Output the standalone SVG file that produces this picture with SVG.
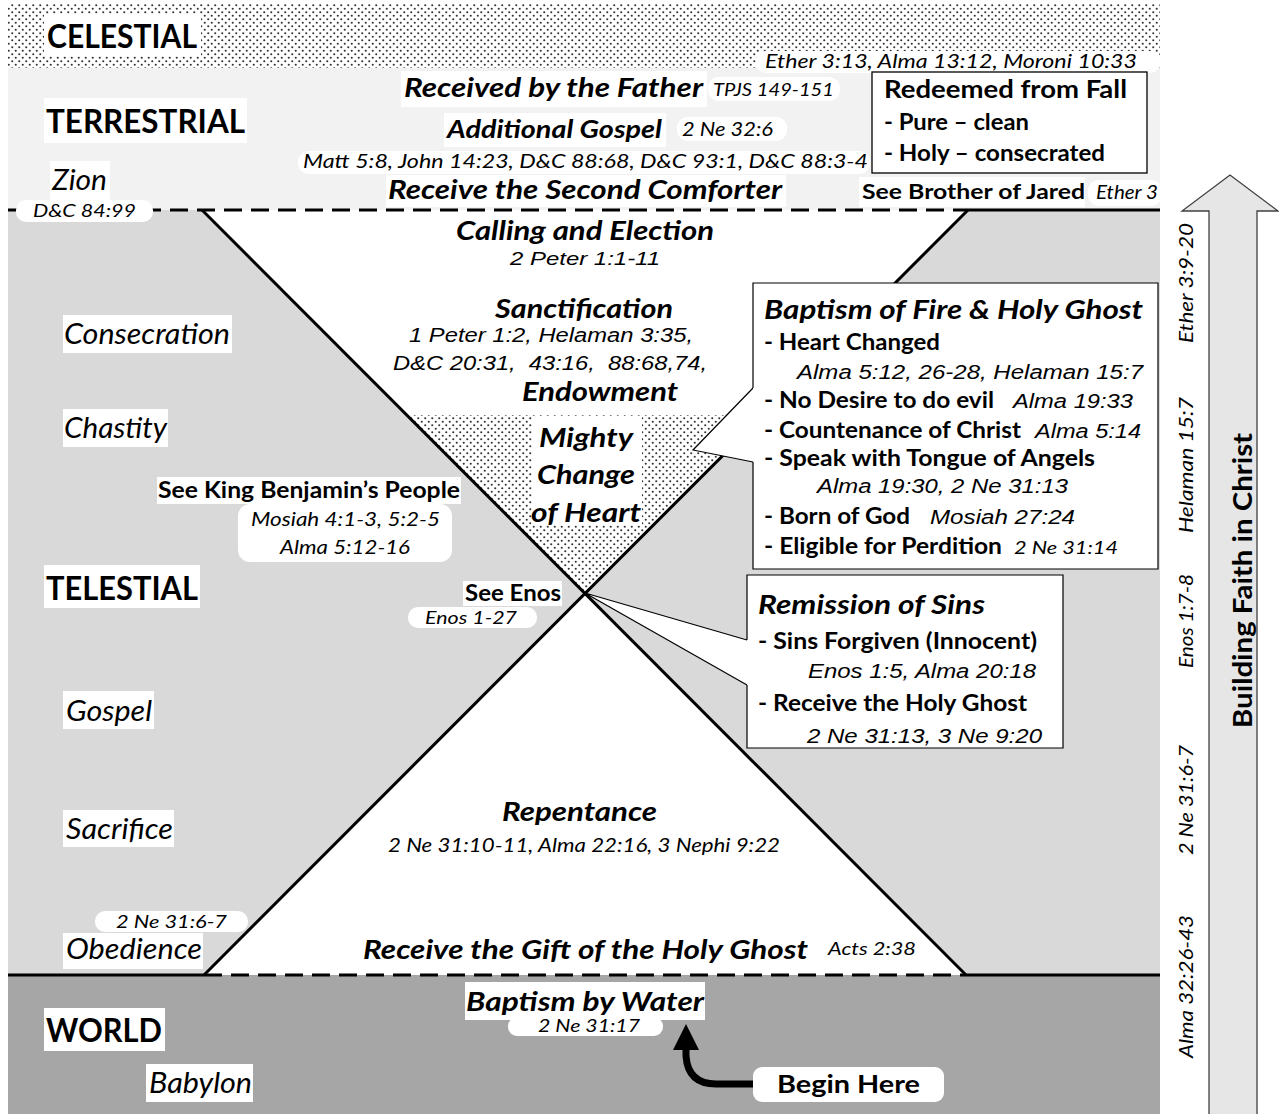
<svg xmlns="http://www.w3.org/2000/svg" width="1279" height="1114" viewBox="0 0 1279 1114">
<defs>
<pattern id="dots" width="7" height="7" patternUnits="userSpaceOnUse">
<rect width="7" height="7" fill="#fff"/>
<circle cx="1.75" cy="1.75" r="1.05" fill="#333"/>
<circle cx="5.25" cy="5.25" r="1.05" fill="#333"/>
</pattern>
<marker id="ah" markerUnits="userSpaceOnUse" viewBox="0 -15 26 30" refX="0" refY="0" markerWidth="26" markerHeight="30" orient="auto">
<path d="M0,-13 L26,0 L0,13 Z" fill="#000"/>
</marker>
<style>
.b{font-family:Lato,"Liberation Sans",sans-serif;font-weight:bold;fill:#000}
.bi{font-family:Lato,"Liberation Sans",sans-serif;font-weight:bold;font-style:italic;fill:#000}
.ci{font-family:Lato,"Liberation Sans",sans-serif;font-style:italic;fill:#000}
.ai{font-family:"Liberation Sans",Arial,sans-serif;font-style:italic;fill:#000}
.hl{fill:#fff}
.box{fill:#fff;stroke:#000;stroke-width:1.3}
.edge{fill:none;stroke:#000;stroke-width:1.2}
.thick{stroke:#000;stroke-width:3;fill:none}
.dash{stroke:#000;stroke-width:3;stroke-dasharray:18 9;fill:none}
</style>
</defs>
<rect width="1279" height="1114" fill="#fff"/>
<g id="bands">
<rect x="8" y="3" width="1152" height="65" fill="url(#dots)"/>
<rect x="8" y="68" width="1152" height="142" fill="#f2f2f2"/>
<rect x="8" y="210" width="1152" height="765" fill="#fff"/>
<polygon points="8,210 202,210 585,593 204,975 8,975" fill="#d9d9d9"/>
<polygon points="968,210 1160,210 1160,975 966,975 585,593" fill="#d9d9d9"/>
<polygon points="408,415 765,415 585,593" fill="url(#dots)"/>
<polygon points="585,593 747,640 747,685" fill="#fff"/>
<rect x="8" y="975" width="1152" height="139" fill="#a6a6a6"/>
</g>
<g id="connectors">
<path class="dash" d="M8,210 H966"/>
<path class="thick" d="M966,210 H1160"/>
<path class="thick" d="M8,975 H204"/>
<path class="dash" d="M204,975 H966"/>
<path class="thick" d="M966,975 H1160"/>
<path class="thick" d="M202,210 L966,975"/>
<path class="thick" d="M204,975 L968,210"/>
<path class="edge" d="M747,640 L585,593 L747,685"/>
<path d="M753,1084 H716 Q688,1084 686,1056 V1050" fill="none" stroke="#000" stroke-width="7" marker-end="url(#ah)"/>
</g>
<g id="faith-arrow">
<polygon points="1209,1120 1209,211 1182,211 1230,175 1278,211 1257,211 1257,1120" fill="#e6e6e6" stroke="#404040" stroke-width="1.3"/>
<text class="b" font-size="27" transform="translate(1252,728) rotate(-90)" textLength="295" lengthAdjust="spacingAndGlyphs">Building Faith in Christ</text>
</g>
<g id="side-refs">
<text class="ci" font-size="20" transform="translate(1193,343) rotate(-90)" textLength="120" lengthAdjust="spacingAndGlyphs">Ether 3:9-20</text>
<text class="ci" font-size="20" transform="translate(1193,533) rotate(-90)" textLength="136" lengthAdjust="spacingAndGlyphs">Helaman 15:7</text>
<text class="ci" font-size="20" transform="translate(1193,668) rotate(-90)" textLength="94" lengthAdjust="spacingAndGlyphs">Enos 1:7-8</text>
<text class="ci" font-size="20" transform="translate(1193,855) rotate(-90)" textLength="110" lengthAdjust="spacingAndGlyphs">2 Ne 31:6-7</text>
<text class="ci" font-size="20" transform="translate(1193,1058) rotate(-90)" textLength="143" lengthAdjust="spacingAndGlyphs">Alma 32:26-43</text>
</g>
<g id="celestial">
<rect class="hl" x="44" y="14" width="157" height="42"/>
<text class="b" x="47" y="48" font-size="33" textLength="150" lengthAdjust="spacingAndGlyphs">CELESTIAL</text>
<rect class="hl" x="756" y="51" width="404" height="22" rx="10"/>
<text class="ci" x="765" y="68" font-size="19.5" textLength="372" lengthAdjust="spacingAndGlyphs">Ether 3:13, Alma 13:12, Moroni 10:33</text>
</g>
<g id="terrestrial">
<rect class="hl" x="44" y="98" width="203" height="45"/>
<text class="b" x="46" y="133" font-size="33" textLength="199" lengthAdjust="spacingAndGlyphs">TERRESTRIAL</text>
</g>
<g id="zion">
<rect class="hl" x="50" y="161" width="60" height="39"/>
<text class="ci" x="52" y="190" font-size="28" textLength="55" lengthAdjust="spacingAndGlyphs">Zion</text>
<rect class="hl" x="16" y="200" width="137" height="22" rx="10"/>
<text class="ci" x="33" y="217" font-size="18" textLength="103" lengthAdjust="spacingAndGlyphs">D&amp;C 84:99</text>
</g>
<g id="received-father">
<rect class="hl" x="401" y="71" width="306" height="36"/>
<text class="bi" x="404" y="97" font-size="27" textLength="299" lengthAdjust="spacingAndGlyphs">Received by the Father</text>
<rect class="hl" x="708" y="77" width="132" height="24" rx="11"/>
<text class="ci" x="713" y="96" font-size="17" textLength="121" lengthAdjust="spacingAndGlyphs">TPJS 149-151</text>
</g>
<g id="additional-gospel">
<rect class="hl" x="444" y="113" width="222" height="34"/>
<text class="bi" x="447" y="138" font-size="24" textLength="215" lengthAdjust="spacingAndGlyphs">Additional Gospel</text>
<rect class="hl" x="677" y="117" width="110" height="24" rx="11"/>
<text class="ci" x="682" y="136" font-size="19" textLength="91" lengthAdjust="spacingAndGlyphs">2 Ne 32:6</text>
</g>
<g id="second-comforter">
<rect class="hl" x="298" y="151" width="572" height="23" rx="11"/>
<text class="ci" x="303" y="168" font-size="19.5" textLength="565" lengthAdjust="spacingAndGlyphs">Matt 5:8, John 14:23, D&amp;C 88:68, D&amp;C 93:1, D&amp;C 88:3-4</text>
<rect class="hl" x="386" y="175" width="400" height="32"/>
<text class="bi" x="388" y="199" font-size="27" textLength="394" lengthAdjust="spacingAndGlyphs">Receive the Second Comforter</text>
</g>
<g id="redeemed">
<rect class="box" x="872" y="72" width="275" height="101"/>
<text class="b" x="884" y="98" font-size="25" textLength="243" lengthAdjust="spacingAndGlyphs">Redeemed from Fall</text>
<text class="b" x="884" y="130" font-size="22" textLength="145" lengthAdjust="spacingAndGlyphs">- Pure – clean</text>
<text class="b" x="884" y="161" font-size="22" textLength="221" lengthAdjust="spacingAndGlyphs">- Holy – consecrated</text>
</g>
<g id="brother-jared">
<rect class="hl" x="859" y="177" width="226" height="30"/>
<text class="b" x="862" y="199" font-size="21" textLength="223" lengthAdjust="spacingAndGlyphs">See Brother of Jared</text>
<rect class="hl" x="1088" y="180" width="74" height="26" rx="11"/>
<text class="ci" x="1096" y="199" font-size="19" textLength="62" lengthAdjust="spacingAndGlyphs">Ether 3</text>
</g>
<g id="calling-election">
<text class="bi" x="456" y="240" font-size="26" textLength="258" lengthAdjust="spacingAndGlyphs">Calling and Election</text>
<text class="ai" x="510" y="265" font-size="18" textLength="150" lengthAdjust="spacingAndGlyphs">2 Peter 1:1-11</text>
</g>
<g id="sanctification">
<text class="bi" x="495" y="318" font-size="26" textLength="178" lengthAdjust="spacingAndGlyphs">Sanctification</text>
<text class="ai" x="409" y="342" font-size="20" textLength="284" lengthAdjust="spacingAndGlyphs">1 Peter 1:2, Helaman 3:35,</text>
<text class="ai" x="393" y="370" font-size="20" textLength="314" lengthAdjust="spacingAndGlyphs" xml:space="preserve">D&amp;C 20:31,  43:16,  88:68,74,</text>
<text class="bi" x="522" y="401" font-size="26" textLength="156" lengthAdjust="spacingAndGlyphs">Endowment</text>
</g>
<g id="mighty-change">
<rect class="hl" x="532" y="417" width="110" height="108"/>
<text class="bi" x="539" y="447" font-size="27" textLength="94" lengthAdjust="spacingAndGlyphs">Mighty</text>
<text class="bi" x="537" y="484" font-size="27" textLength="98" lengthAdjust="spacingAndGlyphs">Change</text>
<text class="bi" x="531" y="522" font-size="27" textLength="110" lengthAdjust="spacingAndGlyphs">of Heart</text>
</g>
<g id="baptism-fire">
<polygon points="753,388 693,450 753,462" fill="#fff"/>
<path class="edge" d="M753,388 L693,450 L753,462"/>
<rect x="753" y="283" width="405" height="286" fill="#fff"/>
<path class="edge" d="M753,388 V283 H1158 V569 H753 V462"/>
<text class="bi" x="764" y="319" font-size="27" textLength="379" lengthAdjust="spacingAndGlyphs">Baptism of Fire &amp; Holy Ghost</text>
<text class="b" x="764" y="350" font-size="22" textLength="176" lengthAdjust="spacingAndGlyphs">- Heart Changed</text>
<text class="ai" x="797" y="379" font-size="20" textLength="346" lengthAdjust="spacingAndGlyphs">Alma 5:12, 26-28, Helaman 15:7</text>
<text class="b" x="764" y="408" font-size="22" textLength="230" lengthAdjust="spacingAndGlyphs">- No Desire to do evil</text>
<text class="ai" x="1013" y="408" font-size="20" textLength="120" lengthAdjust="spacingAndGlyphs">Alma 19:33</text>
<text class="b" x="764" y="438" font-size="22" textLength="257" lengthAdjust="spacingAndGlyphs">- Countenance of Christ</text>
<text class="ai" x="1035" y="438" font-size="20" textLength="106" lengthAdjust="spacingAndGlyphs">Alma 5:14</text>
<text class="b" x="764" y="466" font-size="22" textLength="331" lengthAdjust="spacingAndGlyphs">- Speak with Tongue of Angels</text>
<text class="ai" x="817" y="493" font-size="20" textLength="251" lengthAdjust="spacingAndGlyphs">Alma 19:30, 2 Ne 31:13</text>
<text class="b" x="764" y="524" font-size="22" textLength="146" lengthAdjust="spacingAndGlyphs">- Born of God</text>
<text class="ai" x="930" y="524" font-size="20" textLength="145" lengthAdjust="spacingAndGlyphs">Mosiah 27:24</text>
<text class="b" x="764" y="554" font-size="22" textLength="238" lengthAdjust="spacingAndGlyphs">- Eligible for Perdition</text>
<text class="ci" x="1014" y="554" font-size="18" textLength="104" lengthAdjust="spacingAndGlyphs">2 Ne 31:14</text>
</g>
<g id="remission">
<rect x="747" y="575" width="316" height="173" fill="#fff"/>
<path class="edge" d="M747,640 V575 H1063 V748 H747 V685"/>
<text class="bi" x="758" y="614" font-size="27" textLength="227" lengthAdjust="spacingAndGlyphs">Remission of Sins</text>
<text class="b" x="758" y="649" font-size="22" textLength="279" lengthAdjust="spacingAndGlyphs">- Sins Forgiven (Innocent)</text>
<text class="ai" x="808" y="678" font-size="20" textLength="228" lengthAdjust="spacingAndGlyphs">Enos 1:5, Alma 20:18</text>
<text class="b" x="758" y="711" font-size="22" textLength="269" lengthAdjust="spacingAndGlyphs">- Receive the Holy Ghost</text>
<text class="ai" x="807" y="743" font-size="20" textLength="235" lengthAdjust="spacingAndGlyphs">2 Ne 31:13, 3 Ne 9:20</text>
</g>
<g id="consecration">
<rect class="hl" x="63" y="315" width="169" height="38"/>
<text class="ci" x="64" y="344" font-size="28" textLength="166" lengthAdjust="spacingAndGlyphs">Consecration</text>
</g>
<g id="chastity">
<rect class="hl" x="63" y="409" width="105" height="38"/>
<text class="ci" x="64" y="438" font-size="28" textLength="103" lengthAdjust="spacingAndGlyphs">Chastity</text>
</g>
<g id="king-benjamin">
<rect class="hl" x="157" y="477" width="304" height="27"/>
<text class="b" x="158" y="498" font-size="22" textLength="302" lengthAdjust="spacingAndGlyphs">See King Benjamin’s People</text>
<rect class="hl" x="238" y="504" width="214" height="58" rx="12"/>
<text class="ci" x="251" y="526" font-size="20" textLength="189" lengthAdjust="spacingAndGlyphs">Mosiah 4:1-3, 5:2-5</text>
<text class="ci" x="280" y="554" font-size="20" textLength="130" lengthAdjust="spacingAndGlyphs">Alma 5:12-16</text>
</g>
<g id="telestial">
<rect class="hl" x="44" y="565" width="156" height="43"/>
<text class="b" x="46" y="600" font-size="33" textLength="152" lengthAdjust="spacingAndGlyphs">TELESTIAL</text>
</g>
<g id="see-enos">
<rect class="hl" x="463" y="581" width="99" height="25"/>
<text class="b" x="465" y="601" font-size="22" textLength="96" lengthAdjust="spacingAndGlyphs">See Enos</text>
<rect class="hl" x="408" y="607" width="129" height="21" rx="10"/>
<text class="ci" x="425" y="624" font-size="18" textLength="92" lengthAdjust="spacingAndGlyphs">Enos 1-27</text>
</g>
<g id="gospel">
<rect class="hl" x="63" y="691" width="91" height="38"/>
<text class="ci" x="66" y="721" font-size="28" textLength="86" lengthAdjust="spacingAndGlyphs">Gospel</text>
</g>
<g id="sacrifice">
<rect class="hl" x="63" y="810" width="111" height="37"/>
<text class="ci" x="66" y="839" font-size="28" textLength="107" lengthAdjust="spacingAndGlyphs">Sacrifice</text>
</g>
<g id="obedience">
<rect class="hl" x="95" y="911" width="153" height="21" rx="10"/>
<text class="ci" x="116" y="928" font-size="18" textLength="111" lengthAdjust="spacingAndGlyphs">2 Ne 31:6-7</text>
<rect class="hl" x="63" y="933" width="140" height="36"/>
<text class="ci" x="66" y="959" font-size="28" textLength="136" lengthAdjust="spacingAndGlyphs">Obedience</text>
</g>
<g id="repentance">
<text class="bi" x="502" y="821" font-size="26" textLength="155" lengthAdjust="spacingAndGlyphs">Repentance</text>
<text class="ci" x="388" y="852" font-size="19.5" textLength="392" lengthAdjust="spacingAndGlyphs">2 Ne 31:10-11, Alma 22:16, 3 Nephi 9:22</text>
</g>
<g id="gift-holy-ghost">
<text class="bi" x="363" y="959" font-size="27" textLength="445" lengthAdjust="spacingAndGlyphs">Receive the Gift of the Holy Ghost</text>
<text class="ci" x="828" y="955" font-size="18" textLength="88" lengthAdjust="spacingAndGlyphs">Acts 2:38</text>
</g>
<g id="world">
<rect class="hl" x="44" y="1008" width="121" height="43"/>
<text class="b" x="46" y="1042" font-size="33" textLength="116" lengthAdjust="spacingAndGlyphs">WORLD</text>
</g>
<g id="babylon">
<rect class="hl" x="146" y="1064" width="107" height="38"/>
<text class="ci" x="149" y="1093" font-size="28" textLength="103" lengthAdjust="spacingAndGlyphs">Babylon</text>
</g>
<g id="baptism-water">
<rect class="hl" x="465" y="982" width="240" height="38"/>
<text class="bi" x="466" y="1011" font-size="26" textLength="238" lengthAdjust="spacingAndGlyphs">Baptism by Water</text>
<rect class="hl" x="508" y="1017" width="155" height="19" rx="9"/>
<text class="ci" x="538" y="1032" font-size="17" textLength="102" lengthAdjust="spacingAndGlyphs">2 Ne 31:17</text>
</g>
<g id="begin-here">
<rect class="hl" x="753" y="1067" width="191" height="35" rx="9"/>
<text class="b" x="777" y="1093" font-size="25" textLength="143" lengthAdjust="spacingAndGlyphs">Begin Here</text>
</g>
</svg>
